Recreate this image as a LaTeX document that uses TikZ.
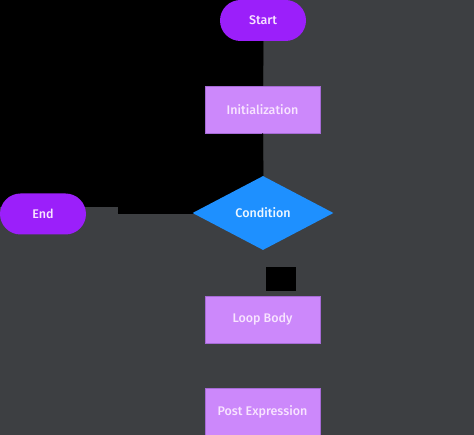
\documentclass[tikz,border=0pt]{standalone}
\usepackage{fontspec}
\setmainfont{Fira Sans}[UprightFont=* Medium]
\usetikzlibrary{shapes.geometric}
\definecolor{bggray}{HTML}{3D3F42}
\definecolor{pillviolet}{HTML}{9B1FFA}
\definecolor{boxlilac}{HTML}{CC88FB}
\definecolor{boxedge}{HTML}{A66AD6}
\definecolor{condblue}{HTML}{1E90FF}
\definecolor{paletext}{HTML}{F8E4FF}
\definecolor{condtext}{HTML}{EEF7FF}
\tikzset{terminal/.style={rectangle, rounded corners=20.5pt, fill=pillviolet, text=paletext, minimum width=86pt, minimum height=41pt, inner sep=0}}
\tikzset{process/.style={rectangle, fill=boxlilac, draw=boxedge, line width=0.8pt, text=paletext, minimum width=115pt, minimum height=47pt, inner sep=0}}
\tikzset{decision/.style={diamond, fill=condblue, text=condtext, minimum width=141pt, minimum height=74pt, inner sep=0}}
\tikzset{flow/.style={draw=black, line width=1pt}}

\begin{document}
\begin{tikzpicture}[x=1pt,y=-1pt,font=\fontsize{12.5}{15}\selectfont]
\useasboundingbox (0,0) rectangle (474,435);
\fill[bggray] (0,0) rectangle (474,435);
%\draw (0,0) rectangle (474,435);
\fill[black] (0,0) -- (263,0) -- (263,214) -- (118,214) -- (118,207) -- (0,207) -- cycle;

\node[terminal] (start) at (263,20.5) {Start};
\node[process] (init) at (262.5,109.5) {Initialization};
\node[decision] (cond) at (263,213) {Condition};
\node[terminal] (end) at (43,214) {End};
\node[process] (body) at (262.5,319.5) {Loop Body};
\node[process] (post) at (262.5,411.5) {Post Expression};
\node[fill=black, minimum width=30pt, minimum height=24pt, inner sep=0] (tag) at (281,279) {};
\coordinate (stub) at (118,212.5);

\draw[flow] (start) -- (init);
\draw[flow] (init) -- (cond);
\draw[flow] (cond.west) -- (stub);

\end{tikzpicture}
\end{document}
